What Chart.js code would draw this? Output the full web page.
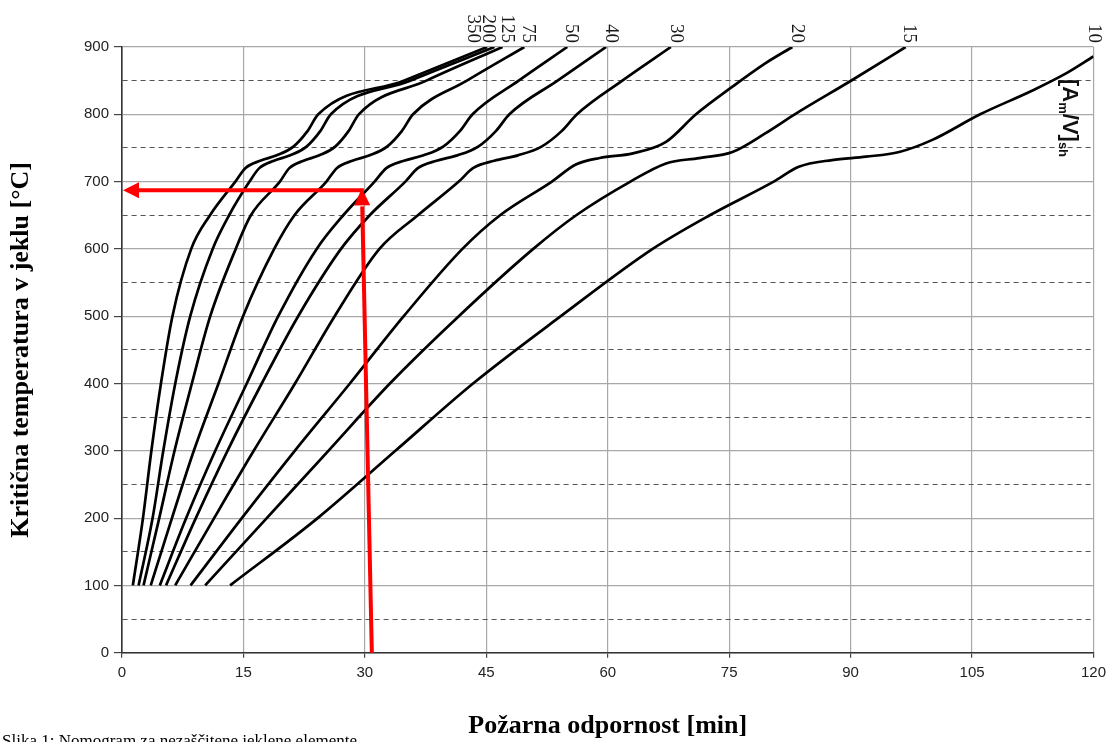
<!DOCTYPE html>
<html>
<head>
<meta charset="utf-8">
<script src="https://cdn.jsdelivr.net/npm/chart.js@4.4.1/dist/chart.umd.min.js"></script>
<style>
  html, body { margin: 0; padding: 0; background: #fff; }
  #wrap { width: 1112px; height: 742px; position: relative; overflow: hidden; }
  canvas { display: block; }
</style>
</head>
<body>
<div id="wrap"><canvas id="chart" width="1112" height="742"></canvas></div>
<script>
// Critical steel temperature against fire resistance time,
// one curve per section factor [Am/V]sh.
const sectionFactors = ['350', '200', '125', '75', '50', '40', '30', '20', '15', '10'];

// Temperature levels shared by the steeper curves (°C)
const tempLevels = [100, 200, 300, 400, 500, 600, 650, 700, 720, 731, 739, 752, 775, 800, 850, 900];

// Times (min) at which each curve reaches the levels above
const min350 = [1.34, 2.59, 3.63, 4.81, 6.23, 8.55, 10.87, 14.0, 15.23, 17.07, 19.12, 21.17, 22.91, 24.24, 34.8, 45.1];
const min200 = [2.05, 3.78, 5.1, 6.58, 8.43, 11.2, 13.23, 15.75, 16.96, 18.77, 20.78, 22.79, 24.49, 25.8, 35.6, 46.0];
const min125 = [2.66, 4.6, 6.49, 8.63, 10.9, 14.05, 15.92, 19.5, 20.67, 22.43, 24.38, 26.33, 27.98, 29.25, 37.6, 47.0];
const min75  = [3.55, 6.17, 8.87, 11.92, 14.95, 18.8, 21.3, 25.25, 26.53, 28.46, 30.6, 32.74, 34.56, 35.95, 42.6, 49.7];
const min50  = [4.67, 7.93, 11.52, 15.41, 19.3, 24.05, 27.33, 31.2, 32.65, 34.83, 37.25, 39.67, 41.73, 43.3, 49.0, 55.0];
const min40  = [5.44, 9.12, 13.03, 17.26, 21.76, 27.05, 30.6, 35.0, 36.54, 38.86, 41.43, 44.0, 46.18, 47.85, 53.8, 59.8];
const min30  = [6.57, 11.38, 16.27, 21.37, 26.27, 31.8, 36.55, 41.6, 43.35, 45.98, 48.9, 51.82, 54.3, 56.2, 61.8, 67.8];

// Slower curves with their own temperature points
const min20  = [8.47, 14.8, 21.34, 28.15, 34.8, 42.05, 46.7, 53.1, 56.0, 59.0, 63.1, 67.2, 70.9, 75.4, 79.5, 82.8];
const temp20 = [100, 200, 300, 400, 500, 600, 650, 700, 725, 735, 742, 759, 800, 841, 876, 900];
const min15  = [10.27, 17.88, 25.49, 33.09, 41.6, 50.8, 56.1, 62.8, 67.2, 71.3, 75.4, 79.5, 83.1, 90.2, 96.8];
const temp15 = [100, 200, 300, 400, 500, 600, 650, 700, 727, 735, 744, 772, 800, 851, 900];
const min10  = [13.35, 24.17, 33.77, 43.36, 54.2, 65.55, 72.6, 80.5, 83.6, 87.7, 91.9, 96.0, 100.1, 106.0, 112.4, 116.5, 120];
const temp10 = [100, 200, 300, 400, 500, 600, 650, 700, 722, 732, 737, 744, 762, 800, 835, 860, 886];

// Worked example: 30 min read up to the curve and across to the temperature axis
const exampleMin  = [30.86, 29.63, 0];
const exampleTemp = [0, 687, 687];

const curves = [
  [min350, tempLevels], [min200, tempLevels], [min125, tempLevels],
  [min75, tempLevels], [min50, tempLevels], [min40, tempLevels],
  [min30, tempLevels], [min20, temp20], [min15, temp15], [min10, temp10]
];

const datasets = curves.map(([mins, temps], i) => ({
  label: sectionFactors[i],
  data: mins.map((t, k) => ({ x: t, y: temps[k] })),
  borderColor: '#000',
  borderWidth: 2.7,
  pointRadius: 0,
  fill: false,
  cubicInterpolationMode: 'monotone'
}));

// horizontal nudges (px) for the crowded curve-end labels
const labelNudge = [-14, -6.5, 4, 4, 4, 4.5, 5, 5, 3.5, 0];

function arrowHead(ctx, tipX, tipY, fromX, fromY, len, half) {
  const a = Math.atan2(tipY - fromY, tipX - fromX);
  const bx = tipX - len * Math.cos(a), by = tipY - len * Math.sin(a);
  ctx.beginPath();
  ctx.moveTo(tipX, tipY);
  ctx.lineTo(bx + half * Math.sin(a), by - half * Math.cos(a));
  ctx.lineTo(bx - half * Math.sin(a), by + half * Math.cos(a));
  ctx.closePath();
  ctx.fill();
  return [bx, by];
}

const overlay = {
  id: 'overlay',
  afterDatasetsDraw(chart) {
    const { ctx, scales: { x, y } } = chart;
    ctx.save();

    // red example arrows
    const px = exampleMin.map(v => x.getPixelForValue(v));
    const py = exampleTemp.map(v => y.getPixelForValue(v));
    ctx.strokeStyle = '#ff0000';
    ctx.fillStyle = '#ff0000';
    ctx.lineWidth = 4;
    ctx.lineCap = 'butt';
    // vertical leg, pointing up
    const tip1y = py[1] - 2;
    const [b1x, b1y] = arrowHead(ctx, px[1], tip1y, px[0], py[0], 17, 8);
    ctx.beginPath(); ctx.moveTo(px[0], py[0]); ctx.lineTo(b1x, b1y + 1); ctx.stroke();
    // horizontal leg, pointing left
    const [b2x, b2y] = arrowHead(ctx, px[2] + 1, py[2], px[1], py[1], 16, 8);
    ctx.beginPath(); ctx.moveTo(px[1] + 2, py[1]); ctx.lineTo(b2x - 1, b2y); ctx.stroke();

    // section factor labels at the curve ends, rotated
    ctx.fillStyle = '#1a1a1a';
    ctx.font = '19px "Liberation Serif", "Times New Roman", serif';
    ctx.textAlign = 'right';
    ctx.textBaseline = 'middle';
    curves.forEach(([mins], i) => {
      const lx = x.getPixelForValue(mins[mins.length - 1]) + labelNudge[i];
      ctx.save();
      ctx.translate(lx, 43);
      ctx.rotate(Math.PI / 2);
      ctx.fillText(sectionFactors[i], 0, 0);
      ctx.restore();
    });

    // [Am/V]sh caption along the right edge
    ctx.save();
    ctx.translate(1063, 79);
    ctx.rotate(Math.PI / 2);
    ctx.textAlign = 'left';
    ctx.textBaseline = 'alphabetic';
    ctx.fillStyle = '#111';
    const big = 'bold 22px "Liberation Sans", Arial, sans-serif';
    const small = 'bold 13px "Liberation Sans", Arial, sans-serif';
    let cx = 0;
    const part = (txt, font, dy) => {
      ctx.font = font;
      ctx.fillText(txt, cx, dy);
      cx += ctx.measureText(txt).width;
    };
    part('[A', big, 0);
    part('m', small, 4);
    part('/V]', big, 0);
    part('sh', small, 4);
    ctx.restore();

    // figure caption at the page foot, cut by the page edge
    ctx.fillStyle = '#000';
    ctx.font = '17px "Liberation Serif", "Times New Roman", serif';
    ctx.textAlign = 'left';
    ctx.textBaseline = 'alphabetic';
    ctx.fillText('Slika 1: Nomogram za nezaščitene jeklene elemente', 2, 746);

    ctx.restore();
  }
};

const tickFont = { family: '"Liberation Sans", Arial, sans-serif', size: 15 };
const titleFont = { family: '"Liberation Serif", "Times New Roman", serif', size: 26, weight: 'bold' };

new Chart(document.getElementById('chart'), {
  type: 'line',
  data: { datasets },
  options: {
    responsive: false,
    animation: false,
    devicePixelRatio: 1,
    layout: { padding: { left: 0, right: 17, top: 47, bottom: 0 } },
    plugins: { legend: { display: false }, tooltip: { enabled: false } },
    scales: {
      x: {
        type: 'linear',
        min: 0, max: 120,
        afterFit: s => { s.height = 89.3; },
        ticks: { stepSize: 15, color: '#222', font: tickFont, padding: 6, maxRotation: 0 },
        grid: { color: '#a8a8a8', lineWidth: 1.2, tickLength: 5, tickColor: '#444' },
        border: { color: '#333', width: 1.6 },
        title: { display: true, text: 'Požarna odpornost [min]', color: '#000', font: titleFont, padding: { top: 0, bottom: 0 } }
      },
      y: {
        type: 'linear',
        min: 0, max: 900,
        afterFit: s => { s.width = 122; },
        ticks: {
          stepSize: 50, autoSkip: false, color: '#222', font: tickFont, padding: 5,
          callback: v => (v % 100 === 0 ? String(v) : '')
        },
        grid: {
          color: c => (c.tick && c.tick.value % 100 !== 0 ? '#555' : '#a8a8a8'),
          lineWidth: c => (c.tick && c.tick.value % 100 !== 0 ? 1 : 1.2),
          tickLength: 8,
          tickColor: c => (c.tick && c.tick.value % 100 !== 0 ? 'rgba(0,0,0,0)' : '#444')
        },
        border: {
          color: '#333', width: 1.6,
          dash: c => (c.tick && c.tick.value % 100 !== 0 ? [5, 4] : [])
        },
        title: { display: true, text: 'Kritična temperatura v jeklu [°C]', color: '#000', font: titleFont, padding: { top: 6 } }
      }
    }
  },
  plugins: [overlay]
});
</script>
</body>
</html>
